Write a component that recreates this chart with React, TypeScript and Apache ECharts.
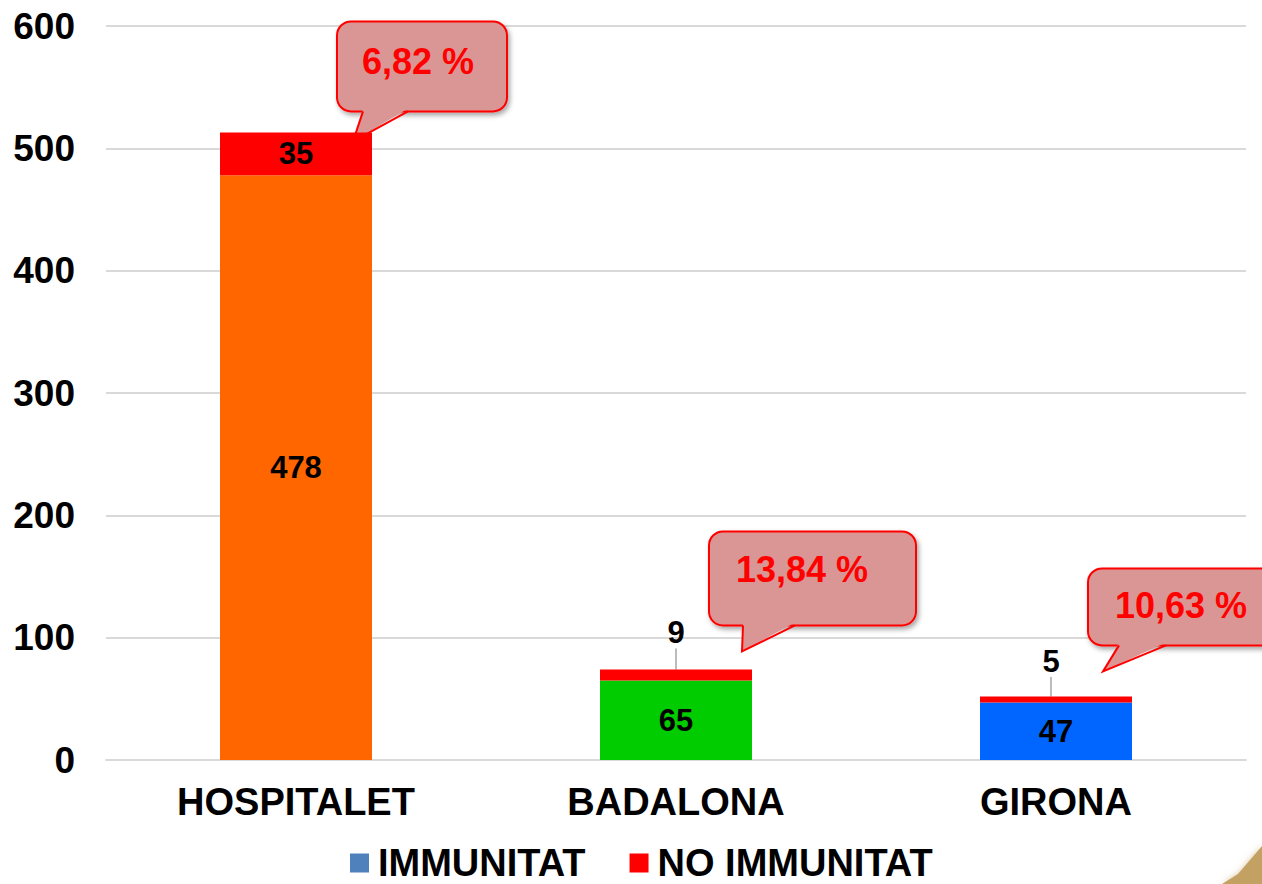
import React, { useEffect, useRef } from "react";
import * as echarts from "echarts";

const categories = ["HOSPITALET", "BADALONA", "GIRONA"];
const immunitat = [478, 65, 47];
const noImmunitat = [35, 9, 5];
const barColors = ["#FF6600", "#00CC00", "#0066FF"];
const percentLabels = ["6,82 %", "13,84 %", "10,63 %"];
const seriesNames = ["IMMUNITAT", "NO IMMUNITAT"];

const FONT = "'Liberation Sans', Arial, sans-serif";

// callout geometry, offsets from the top of each stacked bar (category centre, stack total)
const calloutLayout = [
  { tip: [57, 9], rect: [41, -111, 170, 90], base: [67, 112, -21], text: [122, -71] },
  { tip: [66, -18], rect: [33, -138, 207, 94], base: [67, 119, -44], text: [126, -100] },
  { tip: [47, -25], rect: [32, -128, 215, 77], base: [63, 110, -51], text: [125, -91] },
];

export default function App() {
  const ref = useRef<HTMLDivElement>(null);
  useEffect(() => {
    const chart = echarts.init(ref.current!, null, { renderer: "svg" });
    const option: any = {
      animation: false,
      backgroundColor: "#FFFFFF",
      textStyle: { fontFamily: FONT },
      grid: { left: 106, right: 16, top: 26, bottom: 124, containLabel: false },
      legend: {
        data: seriesNames,
        left: 345,
        top: 838,
        itemWidth: 19,
        itemHeight: 19,
        itemGap: 44,
        icon: "rect",
        textStyle: {
          fontFamily: FONT,
          fontSize: 38,
          lineHeight: 40,
          fontWeight: "bold",
          color: "#000",
          padding: [0, 0, 0, 4],
        },
      },
      xAxis: {
        type: "category",
        data: categories,
        axisLine: { show: true, lineStyle: { color: "#D9D9D9", width: 2 } },
        axisTick: { show: false },
        axisLabel: { fontFamily: FONT, fontSize: 38, fontWeight: "bold", color: "#000", margin: 23 },
      },
      yAxis: {
        type: "value",
        min: 0,
        max: 600,
        interval: 100,
        axisLine: { show: false },
        axisTick: { show: false },
        splitLine: { lineStyle: { color: "#D9D9D9", width: 2 } },
        axisLabel: { fontFamily: FONT, fontSize: 37, fontWeight: "bold", color: "#000", margin: 31 },
      },
      series: [
        {
          name: seriesNames[0],
          type: "bar",
          stack: "total",
          barWidth: "40%",
          itemStyle: { color: "#4F81BD" },
          data: immunitat.map((v, i) => ({ value: v, itemStyle: { color: barColors[i] } })),
          label: {
            show: true,
            position: "inside",
            fontFamily: FONT,
            fontSize: 31,
            fontWeight: "bold",
            color: "#000",
          },
        },
        {
          name: seriesNames[1],
          type: "bar",
          stack: "total",
          barWidth: "40%",
          itemStyle: { color: "#FF0000" },
          data: noImmunitat,
          label: {
            show: true,
            position: "inside",
            fontFamily: FONT,
            fontSize: 31,
            fontWeight: "bold",
            color: "#000",
          },
          labelLine: { show: true, lineStyle: { color: "#A6A6A6", width: 1.5 } },
          labelLayout: (params: any) => {
            if (params.dataIndex === 1) return { dy: -42 };
            if (params.dataIndex === 2) return { dx: -5, dy: -38 };
            return {};
          },
        },
      ],
    };
    chart.setOption(option);

    const graphics: any[] = [];
    categories.forEach((_, i) => {
      const total = immunitat[i] + noImmunitat[i];
      const p = chart.convertToPixel({ xAxisIndex: 0, yAxisIndex: 0 }, [i, total]) as number[];
      const L = calloutLayout[i];
      const [rx, ry, rw, rh] = L.rect;
      const tip = [p[0] + L.tip[0], p[1] + L.tip[1]];
      const b1 = [p[0] + L.base[0], p[1] + L.base[2]];
      const b2 = [p[0] + L.base[1], p[1] + L.base[2]];
      graphics.push({
        type: "group",
        children: [
          {
            type: "rect",
            shape: { x: p[0] + rx, y: p[1] + ry, width: rw, height: rh, r: 14 },
            style: {
              fill: "#D99694",
              stroke: "#FF0000",
              lineWidth: 2,
              shadowBlur: 5,
              shadowOffsetX: 2,
              shadowOffsetY: 3,
              shadowColor: "rgba(0,0,0,0.35)",
            },
          },
          {
            type: "polygon",
            shape: { points: [[b1[0], b1[1] - 3], tip, [b2[0], b2[1] - 3]] },
            style: { fill: "#D99694", stroke: null },
          },
          {
            type: "polyline",
            shape: { points: [b1, tip, b2] },
            style: { fill: null, stroke: "#FF0000", lineWidth: 2 },
          },
          {
            type: "text",
            x: p[0] + L.text[0],
            y: p[1] + L.text[1],
            style: {
              text: percentLabels[i],
              fill: "#FF0000",
              font: `bold 36px ${FONT}`,
              align: "center",
              verticalAlign: "middle",
            },
          },
        ],
      });
    });
    // decorative slide corner
    graphics.push({
      type: "polygon",
      shape: { points: [[1222, 884], [1238, 874], [1262, 846], [1262, 884]] },
      style: { fill: "#C2A163", shadowBlur: 6, shadowColor: "rgba(194,161,99,0.6)" },
    });
    chart.setOption({ graphic: graphics });

    return () => chart.dispose();
  }, []);
  return (
    <div
      ref={ref}
      style={{ position: "absolute", left: 0, top: 0, width: 1262, height: 884, background: "#fff" }}
    />
  );
}
